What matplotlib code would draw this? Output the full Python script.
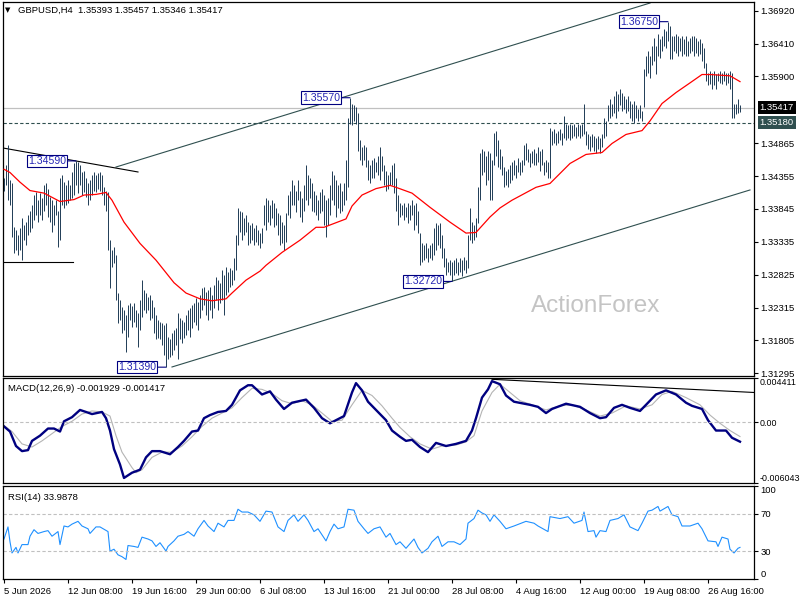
import numpy as np
import matplotlib
matplotlib.use('Agg')
import matplotlib.pyplot as plt
import matplotlib.transforms as mtransforms

plt.rcParams['font.family'] = ['Liberation Sans', 'DejaVu Sans']

# GBPUSD H4 bars, high / low
highs = [
    1.3432, 1.3452, 1.3483, 1.3429, 1.3424, 1.3356, 1.3352, 1.3344, 1.3355, 1.3370,
    1.3359, 1.3364, 1.3375, 1.3382, 1.3390, 1.3406, 1.3410, 1.3398, 1.3409, 1.3401,
    1.3421, 1.3424, 1.3416, 1.3403, 1.3398, 1.3390, 1.3398, 1.3382, 1.3433, 1.3437,
    1.3426, 1.3421, 1.3429, 1.3421, 1.3441, 1.3455, 1.3459, 1.3457, 1.3452, 1.3441,
    1.3444, 1.3432, 1.3424, 1.3429, 1.3437, 1.3441, 1.3437, 1.3440, 1.3441, 1.3437,
    1.3418, 1.3413, 1.3410, 1.3336, 1.3321, 1.3325, 1.3313, 1.3254, 1.3243, 1.3232,
    1.3228, 1.3220, 1.3236, 1.3239, 1.3234, 1.3239, 1.3228, 1.3223, 1.3243, 1.3274,
    1.3259, 1.3254, 1.3248, 1.3251, 1.3243, 1.3232, 1.3220, 1.3212, 1.3209, 1.3208,
    1.3205, 1.3208, 1.3186, 1.3182, 1.3192, 1.3197, 1.3200, 1.3223, 1.3216, 1.3212,
    1.3209, 1.3220, 1.3228, 1.3231, 1.3236, 1.3239, 1.3246, 1.3240, 1.3251, 1.3262,
    1.3263, 1.3256, 1.3259, 1.3263, 1.3251, 1.3267, 1.3279, 1.3274, 1.3270, 1.3290,
    1.3282, 1.3294, 1.3287, 1.3293, 1.3290, 1.3308, 1.3344, 1.3386, 1.3382, 1.3379,
    1.3370, 1.3375, 1.3364, 1.3359, 1.3362, 1.3355, 1.3359, 1.3352, 1.3347, 1.3355,
    1.3390, 1.3401, 1.3398, 1.3390, 1.3398, 1.3394, 1.3386, 1.3378, 1.3375, 1.3364,
    1.3359, 1.3378, 1.3406, 1.3413, 1.3429, 1.3421, 1.3413, 1.3429, 1.3413, 1.3401,
    1.3421, 1.3452, 1.3437, 1.3432, 1.3424, 1.3413, 1.3406, 1.3398, 1.3410, 1.3416,
    1.3406, 1.3398, 1.3401, 1.3421, 1.3444, 1.3437, 1.3429, 1.3421, 1.3424, 1.3413,
    1.3424, 1.3460, 1.3526, 1.3557, 1.3548, 1.3545, 1.3542, 1.3534, 1.3491, 1.3480,
    1.3483, 1.3480, 1.3460, 1.3452, 1.3460, 1.3464, 1.3457, 1.3467, 1.3480, 1.3467,
    1.3452, 1.3444, 1.3437, 1.3441, 1.3452, 1.3455, 1.3433, 1.3406, 1.3394, 1.3390,
    1.3394, 1.3387, 1.3394, 1.3390, 1.3398, 1.3390, 1.3394, 1.3382, 1.3347, 1.3331,
    1.3328, 1.3331, 1.3324, 1.3328, 1.3331, 1.3355, 1.3362, 1.3359, 1.3362, 1.3344,
    1.3324, 1.3308, 1.3302, 1.3305, 1.3302, 1.3305, 1.3308, 1.3302, 1.3308, 1.3305,
    1.3310, 1.3305, 1.3344, 1.3386, 1.3364, 1.3359, 1.3370, 1.3418, 1.3472, 1.3478,
    1.3475, 1.3467, 1.3475, 1.3471, 1.3460, 1.3503, 1.3506, 1.3491, 1.3478, 1.3467,
    1.3449, 1.3444, 1.3447, 1.3452, 1.3457, 1.3460, 1.3452, 1.3463, 1.3457, 1.3460,
    1.3483, 1.3486, 1.3478, 1.3472, 1.3475, 1.3478, 1.3472, 1.3480, 1.3475, 1.3478,
    1.3457, 1.3460, 1.3457, 1.3510, 1.3506, 1.3509, 1.3503, 1.3506, 1.3509, 1.3503,
    1.3529, 1.3517, 1.3514, 1.3517, 1.3514, 1.3517, 1.3511, 1.3517, 1.3514, 1.3517,
    1.3548, 1.3506, 1.3501, 1.3498, 1.3501, 1.3498, 1.3495, 1.3498, 1.3494, 1.3501,
    1.3526, 1.3521, 1.3545, 1.3555, 1.3548, 1.3560, 1.3568, 1.3563, 1.3571, 1.3565,
    1.3560, 1.3555, 1.3560, 1.3552, 1.3548, 1.3552, 1.3545, 1.3540, 1.3545, 1.3537,
    1.3602, 1.3622, 1.3630, 1.3622, 1.3637, 1.3650, 1.3637, 1.3656, 1.3648, 1.3653,
    1.3664, 1.3661, 1.3675, 1.3668, 1.3653, 1.3653, 1.3656, 1.3653, 1.3650, 1.3653,
    1.3648, 1.3653, 1.3645, 1.3650, 1.3653, 1.3653, 1.3650, 1.3645, 1.3648, 1.3642,
    1.3634, 1.3611, 1.3596, 1.3599, 1.3596, 1.3599, 1.3594, 1.3596, 1.3599, 1.3596,
    1.3599, 1.3596, 1.3596, 1.3599, 1.3596, 1.3548, 1.3548, 1.3555, 1.35457,
]
lows = [
    1.3413, 1.3421, 1.3398, 1.3390, 1.3341, 1.3316, 1.3321, 1.3313, 1.3321, 1.3305,
    1.3336, 1.3328, 1.3344, 1.3348, 1.3355, 1.3367, 1.3375, 1.3364, 1.3375, 1.3367,
    1.3382, 1.3390, 1.3372, 1.3364, 1.3348, 1.3359, 1.3375, 1.3325, 1.3336, 1.3390,
    1.3386, 1.3390, 1.3393, 1.3398, 1.3401, 1.3406, 1.3421, 1.3409, 1.3421, 1.3406,
    1.3410, 1.3403, 1.3390, 1.3398, 1.3406, 1.3413, 1.3410, 1.3416, 1.3413, 1.3406,
    1.3390, 1.3382, 1.3321, 1.3262, 1.3294, 1.3300, 1.3243, 1.3208, 1.3212, 1.3192,
    1.3197, 1.3163, 1.3186, 1.3212, 1.3202, 1.3209, 1.3202, 1.3171, 1.3197, 1.3217,
    1.3228, 1.3223, 1.3228, 1.3212, 1.3216, 1.3192, 1.3182, 1.3185, 1.3182, 1.3174,
    1.3158, 1.3139, 1.3151, 1.3154, 1.3158, 1.3166, 1.3174, 1.3151, 1.3182, 1.3177,
    1.3185, 1.3189, 1.3197, 1.3186, 1.3200, 1.3209, 1.3205, 1.3197, 1.3216, 1.3228,
    1.3236, 1.3220, 1.3212, 1.3228, 1.3216, 1.3231, 1.3243, 1.3228, 1.3239, 1.3243,
    1.3220, 1.3251, 1.3256, 1.3263, 1.3267, 1.3274, 1.3290, 1.3328, 1.3348, 1.3336,
    1.3344, 1.3348, 1.3328, 1.3331, 1.3336, 1.3328, 1.3333, 1.3328, 1.3324, 1.3331,
    1.3359, 1.3352, 1.3364, 1.3359, 1.3370, 1.3356, 1.3359, 1.3344, 1.3328, 1.3331,
    1.3321, 1.3333, 1.3375, 1.3370, 1.3390, 1.3390, 1.3379, 1.3398, 1.3372, 1.3364,
    1.3382, 1.3398, 1.3390, 1.3401, 1.3382, 1.3379, 1.3375, 1.3367, 1.3378, 1.3382,
    1.3359, 1.3341, 1.3359, 1.3375, 1.3398, 1.3390, 1.3372, 1.3386, 1.3378, 1.3382,
    1.3390, 1.3398, 1.3418, 1.3517, 1.3514, 1.3521, 1.3517, 1.3475, 1.3460, 1.3452,
    1.3460, 1.3449, 1.3429, 1.3424, 1.3432, 1.3433, 1.3441, 1.3437, 1.3429, 1.3444,
    1.3421, 1.3413, 1.3416, 1.3421, 1.3421, 1.3409, 1.3382, 1.3359, 1.3372, 1.3375,
    1.3367, 1.3372, 1.3362, 1.3367, 1.3375, 1.3352, 1.3359, 1.3347, 1.3297, 1.3302,
    1.3305, 1.3308, 1.3302, 1.3308, 1.3305, 1.3313, 1.3321, 1.3328, 1.3324, 1.3308,
    1.3294, 1.3282, 1.3287, 1.3282, 1.3272, 1.3282, 1.3285, 1.3282, 1.3287, 1.3280,
    1.3290, 1.3285, 1.3293, 1.3336, 1.3331, 1.3336, 1.3341, 1.3362, 1.3398, 1.3437,
    1.3441, 1.3421, 1.3429, 1.3398, 1.3398, 1.3452, 1.3467, 1.3449, 1.3447, 1.3437,
    1.3418, 1.3421, 1.3418, 1.3424, 1.3429, 1.3437, 1.3433, 1.3441, 1.3437, 1.3441,
    1.3452, 1.3460, 1.3457, 1.3449, 1.3455, 1.3452, 1.3452, 1.3457, 1.3444, 1.3452,
    1.3437, 1.3441, 1.3433, 1.3433, 1.3483, 1.3487, 1.3483, 1.3486, 1.3491, 1.3483,
    1.3495, 1.3491, 1.3494, 1.3491, 1.3495, 1.3498, 1.3495, 1.3498, 1.3495, 1.3498,
    1.3501, 1.3483, 1.3478, 1.3475, 1.3480, 1.3475, 1.3472, 1.3478, 1.3472, 1.3480,
    1.3494, 1.3498, 1.3521, 1.3526, 1.3529, 1.3534, 1.3526, 1.3537, 1.3545, 1.3537,
    1.3540, 1.3534, 1.3537, 1.3525, 1.3521, 1.3518, 1.3525, 1.3521, 1.3526, 1.3521,
    1.3542, 1.3591, 1.3596, 1.3588, 1.3607, 1.3614, 1.3594, 1.3622, 1.3619, 1.3630,
    1.3637, 1.3634, 1.3645, 1.3617, 1.3617, 1.3630, 1.3627, 1.3622, 1.3630, 1.3622,
    1.3625, 1.3622, 1.3622, 1.3627, 1.3630, 1.3622, 1.3627, 1.3622, 1.3625, 1.3614,
    1.3603, 1.3583, 1.3576, 1.3579, 1.3571, 1.3576, 1.3571, 1.3583, 1.3580, 1.3579,
    1.3583, 1.3576, 1.3580, 1.3571, 1.3526, 1.3526, 1.3532, 1.3534, 1.35346,
]

# red moving average (bar index, price)
ma_idx = [0, 3, 8, 13, 20, 28, 35, 40, 46, 51, 54, 60, 68, 76, 85, 91, 98, 104,
          111, 114, 121, 128, 131, 139, 148, 156, 160, 171, 174, 179, 186, 193, 196,
          204, 213, 223, 231, 236, 243, 248, 254, 266, 273, 283, 291, 299, 304, 311,
          319, 323, 329, 336, 343, 349, 353, 363, 368]
ma_val = [1.3446, 1.3441, 1.3426, 1.3413, 1.3409, 1.3396, 1.3399, 1.3406, 1.3407,
          1.3410, 1.3398, 1.3364, 1.3331, 1.3305, 1.3270, 1.3254, 1.3245, 1.3242,
          1.3245, 1.3254, 1.3274, 1.3288, 1.3297, 1.3317, 1.3336, 1.3356, 1.3356,
          1.3369, 1.3389, 1.3406, 1.3416, 1.3421, 1.3418, 1.3409, 1.3387, 1.3364,
          1.3347, 1.3348, 1.3372, 1.3386, 1.3398, 1.3418, 1.3424, 1.3455, 1.3469,
          1.3472, 1.3486, 1.3500, 1.3506, 1.3521, 1.3548, 1.3565, 1.3580, 1.3593,
          1.3593, 1.3591, 1.3582]

# MACD(12,26,9)
macd_idx = [0, 3, 6, 9, 12, 14, 18, 22, 25, 28, 30, 34, 38, 41, 44, 49, 51, 53, 55,
            58, 60, 64, 68, 71, 74, 78, 83, 87, 90, 94, 97, 100, 103, 107, 111, 114,
            118, 122, 124, 129, 133, 136, 140, 144, 151, 155, 159, 163, 166, 170, 174,
            176, 179, 182, 186, 191, 194, 198, 201, 204, 208, 212, 216, 221, 226, 231,
            234, 236, 239, 242, 244, 248, 251, 255, 263, 267, 271, 274, 281, 288, 293,
            298, 301, 305, 309, 313, 318, 321, 326, 331, 336, 341, 344, 349, 352, 356,
            361, 364, 368]
macd_val = [-0.00041, -0.00092, -0.00236, -0.00287, -0.00277, -0.00185, -0.00133,
            -0.00062, -0.00062, -0.00092, 0.00010, 0.00051, 0.00123, 0.00103, 0.00082,
            0.00103, 0.00041, -0.00082, -0.00267, -0.00420, -0.00554, -0.00502,
            -0.00472, -0.00349, -0.00287, -0.00287, -0.00318, -0.00246, -0.00185,
            -0.00092, -0.00082, 0.00041, 0.00072, 0.00103, 0.00113, 0.00174, 0.00318,
            0.00369, 0.00369, 0.00277, 0.00308, 0.00226, 0.00133, 0.00195, 0.00226,
            0.00144, 0.00041, -0.00010, 0.00021, 0.00062, 0.00297, 0.00390, 0.00318,
            0.00205, 0.00123, 0.00021, -0.00082, -0.00144, -0.00185, -0.00174,
            -0.00246, -0.00297, -0.00205, -0.00236, -0.00215, -0.00185, -0.00082,
            0.00041, 0.00246, 0.00328, 0.00410, 0.00379, 0.00267, 0.00205, 0.00174,
            0.00154, 0.00092, 0.00133, 0.00185, 0.00154, 0.00092, 0.00041, 0.00051,
            0.00144, 0.00174, 0.00144, 0.00113, 0.00174, 0.00277, 0.00318, 0.00277,
            0.00195, 0.00164, 0.00133, 0.00021, -0.00082, -0.00082, -0.00154, -0.001929]
signal_idx = [0, 4, 9, 14, 19, 24, 29, 34, 39, 44, 49, 53, 56, 59, 64, 66, 69, 74, 79,
              84, 89, 94, 99, 104, 109, 114, 119, 124, 129, 134, 139, 144, 149, 154,
              159, 164, 169, 174, 179, 184, 189, 194, 198, 203, 208, 214, 219, 226, 231,
              235, 239, 244, 248, 253, 258, 264, 271, 278, 284, 291, 298, 304, 311, 318,
              324, 329, 334, 341, 348, 353, 358, 363, 368]
signal_val = [-0.00031, -0.00092, -0.00215, -0.00246, -0.00185, -0.00113, -0.00041,
              0.00010, 0.00082, 0.00113, 0.00103, 0.00062, -0.00133, -0.00297, -0.00451,
              -0.00502, -0.00472, -0.00349, -0.00297, -0.00297, -0.00236, -0.00144,
              -0.00041, 0.00041, 0.00092, 0.00144, 0.00246, 0.00338, 0.00328, 0.00287,
              0.00215, 0.00185, 0.00215, 0.00174, 0.00092, 0.00010, 0.00021, 0.00174,
              0.00318, 0.00267, 0.00164, 0.00041, -0.00051, -0.00144, -0.00215,
              -0.00267, -0.00236, -0.00226, -0.00195, -0.00133, 0.00113, 0.00297,
              0.00379, 0.00297, 0.00215, 0.00174, 0.00123, 0.00164, 0.00174, 0.00123,
              0.00062, 0.00092, 0.00164, 0.00133, 0.00174, 0.00277, 0.00308, 0.00246,
              0.00174, 0.00072, -0.00010, -0.00082, -0.001417]
macd_trend_idx = [244, 375]
macd_trend_val = [0.00428, 0.00297]

# RSI(14)
rsi_idx = [0, 2, 3, 4, 6, 7, 9, 12, 13, 15, 17, 20, 22, 24, 27, 28, 30, 32, 34, 37, 39,
           42, 43, 46, 48, 52, 53, 55, 57, 59, 61, 62, 65, 67, 69, 72, 74, 76, 78, 81,
           82, 85, 87, 90, 92, 95, 97, 100, 102, 105, 107, 110, 112, 115, 117, 119,
           122, 125, 128, 131, 134, 137, 140, 142, 145, 147, 150, 152, 155, 157, 161,
           163, 165, 167, 170, 172, 175, 177, 180, 182, 185, 188, 191, 193, 196, 198,
           201, 205, 207, 209, 212, 214, 217, 219, 222, 225, 228, 231, 232, 235, 237,
           239, 241, 243, 245, 248, 251, 255, 261, 265, 267, 272, 273, 278, 282, 285,
           289, 290, 292, 295, 296, 298, 301, 303, 307, 310, 313, 317, 319, 322, 324,
           327, 328, 332, 334, 337, 339, 343, 347, 349, 352, 356, 357, 359, 362, 363,
           365, 367, 368]
rsi_val = [43, 56, 40, 28, 34, 28, 37, 37, 46, 53, 49, 51, 52, 46, 51, 37, 57, 56, 59,
           62, 57, 54, 49, 56, 56, 51, 30, 32, 26, 24, 21, 36, 35, 34, 45, 43, 41, 35,
           39, 30, 35, 41, 46, 48, 51, 46, 54, 63, 57, 51, 60, 56, 63, 63, 75, 72, 72,
           69, 62, 73, 72, 56, 51, 63, 69, 62, 69, 63, 51, 54, 41, 51, 59, 54, 56, 75,
           74, 62, 54, 49, 54, 56, 45, 49, 37, 40, 33, 43, 34, 28, 33, 40, 46, 35, 40,
           40, 37, 43, 60, 65, 74, 71, 69, 62, 69, 62, 54, 57, 62, 60, 57, 51, 67, 65,
           67, 60, 63, 72, 51, 52, 45, 52, 51, 63, 65, 69, 56, 52, 60, 73, 74, 78, 73,
           78, 69, 67, 57, 57, 60, 54, 41, 40, 35, 45, 43, 32, 28, 33, 33.9878]

# swing labels
pivot_idx = [36, 81, 173, 224, 332]
pivot_price = [1.3459, 1.3139, 1.3557, 1.3272, 1.3675]
pivot_text = ['1.34590', '1.31390', '1.35570', '1.32720', '1.36750']

# drawn lines: (x0, x1, y0, y1)
channel_upper = [56, 323, 1.34495, 1.37039]
channel_lower = [84, 373, 1.31393, 1.34139]
trend_black = [-0.5, 67, 1.34790, 1.34418]
flat_black = [-0.5, 34.5, 1.33022, 1.33022]

last_price = 1.35417
dash_price = 1.35180
price_ticks = [1.36920, 1.36410, 1.35900, 1.34865, 1.34355, 1.33845, 1.33335,
               1.32825, 1.32315, 1.31805, 1.31295]
date_pos = [0, 32, 64, 96, 128, 160, 192, 224, 256, 288, 320, 352]
date_labels = ['5 Jun 2026', '12 Jun 08:00', '19 Jun 16:00', '29 Jun 00:00',
               '6 Jul 08:00', '13 Jul 16:00', '21 Jul 00:00', '28 Jul 08:00',
               '4 Aug 16:00', '12 Aug 00:00', '19 Aug 08:00', '26 Aug 16:00']

bar_color = '#1f3b55'
slate = '#2f4f4f'
navy = '#000080'
fs = 6.8

fig = plt.figure(figsize=(8, 6), dpi=100)
ax = fig.add_axes([3 / 800, 1 - 376 / 600, 751 / 800, 374 / 600])
ax_macd = fig.add_axes([3 / 800, 1 - 483 / 600, 751 / 800, 105 / 600])
ax_rsi = fig.add_axes([3 / 800, 1 - 579 / 600, 751 / 800, 93 / 600])

x = np.arange(len(highs))
xlim = (-0.5, 375)

# ---- price panel
ax.vlines(x, lows, highs, color=bar_color, lw=0.7, zorder=3)
ax.plot(ma_idx, ma_val, color='red', lw=0.9, zorder=4)
for ln in (channel_upper, channel_lower):
    ax.plot(ln[:2], ln[2:], color=slate, lw=0.8, zorder=2)
for ln in (trend_black, flat_black):
    ax.plot(ln[:2], ln[2:], color='black', lw=0.8, zorder=2)
ax.axhline(last_price, color='#c0c0c0', lw=0.9, zorder=1)
ax.axhline(dash_price, color=slate, lw=0.8, ls=(0, (3, 2)), zorder=1)

for i, p, t in zip(pivot_idx, pivot_price, pivot_text):
    ax.annotate(t, xy=(i, p), xytext=(-10, 0), textcoords='offset pixels',
                ha='right', va='center', fontsize=7.6, color='#2626b4', zorder=6,
                bbox=dict(boxstyle='square,pad=0.12', fc='white', ec=navy, lw=0.8),
                arrowprops=dict(arrowstyle='-', color=navy, lw=0.8,
                                shrinkA=0, shrinkB=0))

ax.set_xlim(*xlim)
ax.set_ylim(1.31253, 1.37055)
ax.set_xticks([])
ax.yaxis.tick_right()
ax.set_yticks(price_ticks)
ax.set_yticklabels(['%.5f' % v for v in price_ticks])
ax.tick_params(axis='y', direction='out', length=3, pad=1.5, labelsize=fs)

trans = mtransforms.blended_transform_factory(ax.transAxes, ax.transData)
for p, bg in ((last_price, 'black'), (dash_price, slate)):
    ax.text(1.0075, p, '%.5f' % p, transform=trans, ha='left', va='center',
            fontsize=fs, color='white', clip_on=False,
            bbox=dict(boxstyle='square,pad=0.2', fc=bg, ec='none'))

ax.text(0.003, 0.978, '\u25bc', transform=ax.transAxes, fontsize=5,
        ha='left', va='center', family=['DejaVu Sans'])
ax.text(0.02, 0.978, 'GBPUSD,H4  1.35393 1.35457 1.35346 1.35417',
        transform=ax.transAxes, fontsize=fs, ha='left', va='center')
ax.text(0.789, 0.187, 'ActionForex', transform=ax.transAxes, fontsize=17.5,
        color='#c4c4c4', ha='center', va='center', zorder=0)

# ---- MACD panel
ax_macd.plot(signal_idx, signal_val, color='#b4b4b4', lw=0.8)
ax_macd.plot(macd_idx, macd_val, color=navy, lw=1.7)
ax_macd.plot(macd_trend_idx, macd_trend_val, color='black', lw=0.8)
ax_macd.axhline(0, color='#c0c0c0', lw=0.8, ls=(0, (3, 2)))
ax_macd.set_xlim(*xlim)
ax_macd.set_ylim(-0.006043, 0.004411)
ax_macd.set_xticks([])
ax_macd.yaxis.tick_right()
ax_macd.set_yticks([0.004411, 0.0, -0.006043])
ax_macd.set_yticklabels(['0.004411', '0.00', '-0.006043'])
ax_macd.tick_params(axis='y', direction='out', length=3, pad=1, labelsize=6.4)
lbls = ax_macd.get_yticklabels()
lbls[0].set_va('top')
lbls[2].set_va('bottom')
ax_macd.text(0.006, 0.9, 'MACD(12,26,9) -0.001929 -0.001417',
             transform=ax_macd.transAxes, fontsize=fs, ha='left', va='center')

# ---- RSI panel
ax_rsi.plot(rsi_idx, rsi_val, color='#1e90ff', lw=0.8)
for lvl in (70, 30):
    ax_rsi.axhline(lvl, color='#c0c0c0', lw=0.8, ls=(0, (3, 2)))
ax_rsi.set_xlim(*xlim)
ax_rsi.set_ylim(0, 100)
ax_rsi.yaxis.tick_right()
ax_rsi.set_yticks([100, 70, 30, 0])
ax_rsi.set_yticklabels(['100', '70', '30', '0'])
ax_rsi.tick_params(axis='y', direction='out', length=3, pad=1.5, labelsize=fs)
lbls = ax_rsi.get_yticklabels()
lbls[0].set_va('top')
lbls[3].set_va('bottom')
ax_rsi.set_xticks(date_pos)
ax_rsi.set_xticklabels(date_labels)
ax_rsi.tick_params(axis='x', direction='out', length=3, pad=3, labelsize=fs)
for lbl in ax_rsi.get_xticklabels():
    lbl.set_ha('left')
ax_rsi.text(0.006, 0.88, 'RSI(14) 33.9878', transform=ax_rsi.transAxes,
            fontsize=fs, ha='left', va='center')

for a in (ax, ax_macd, ax_rsi):
    for s in a.spines.values():
        s.set_linewidth(0.9)
        s.set_color('black')

fig.savefig('out.png', dpi=100, facecolor='white')
